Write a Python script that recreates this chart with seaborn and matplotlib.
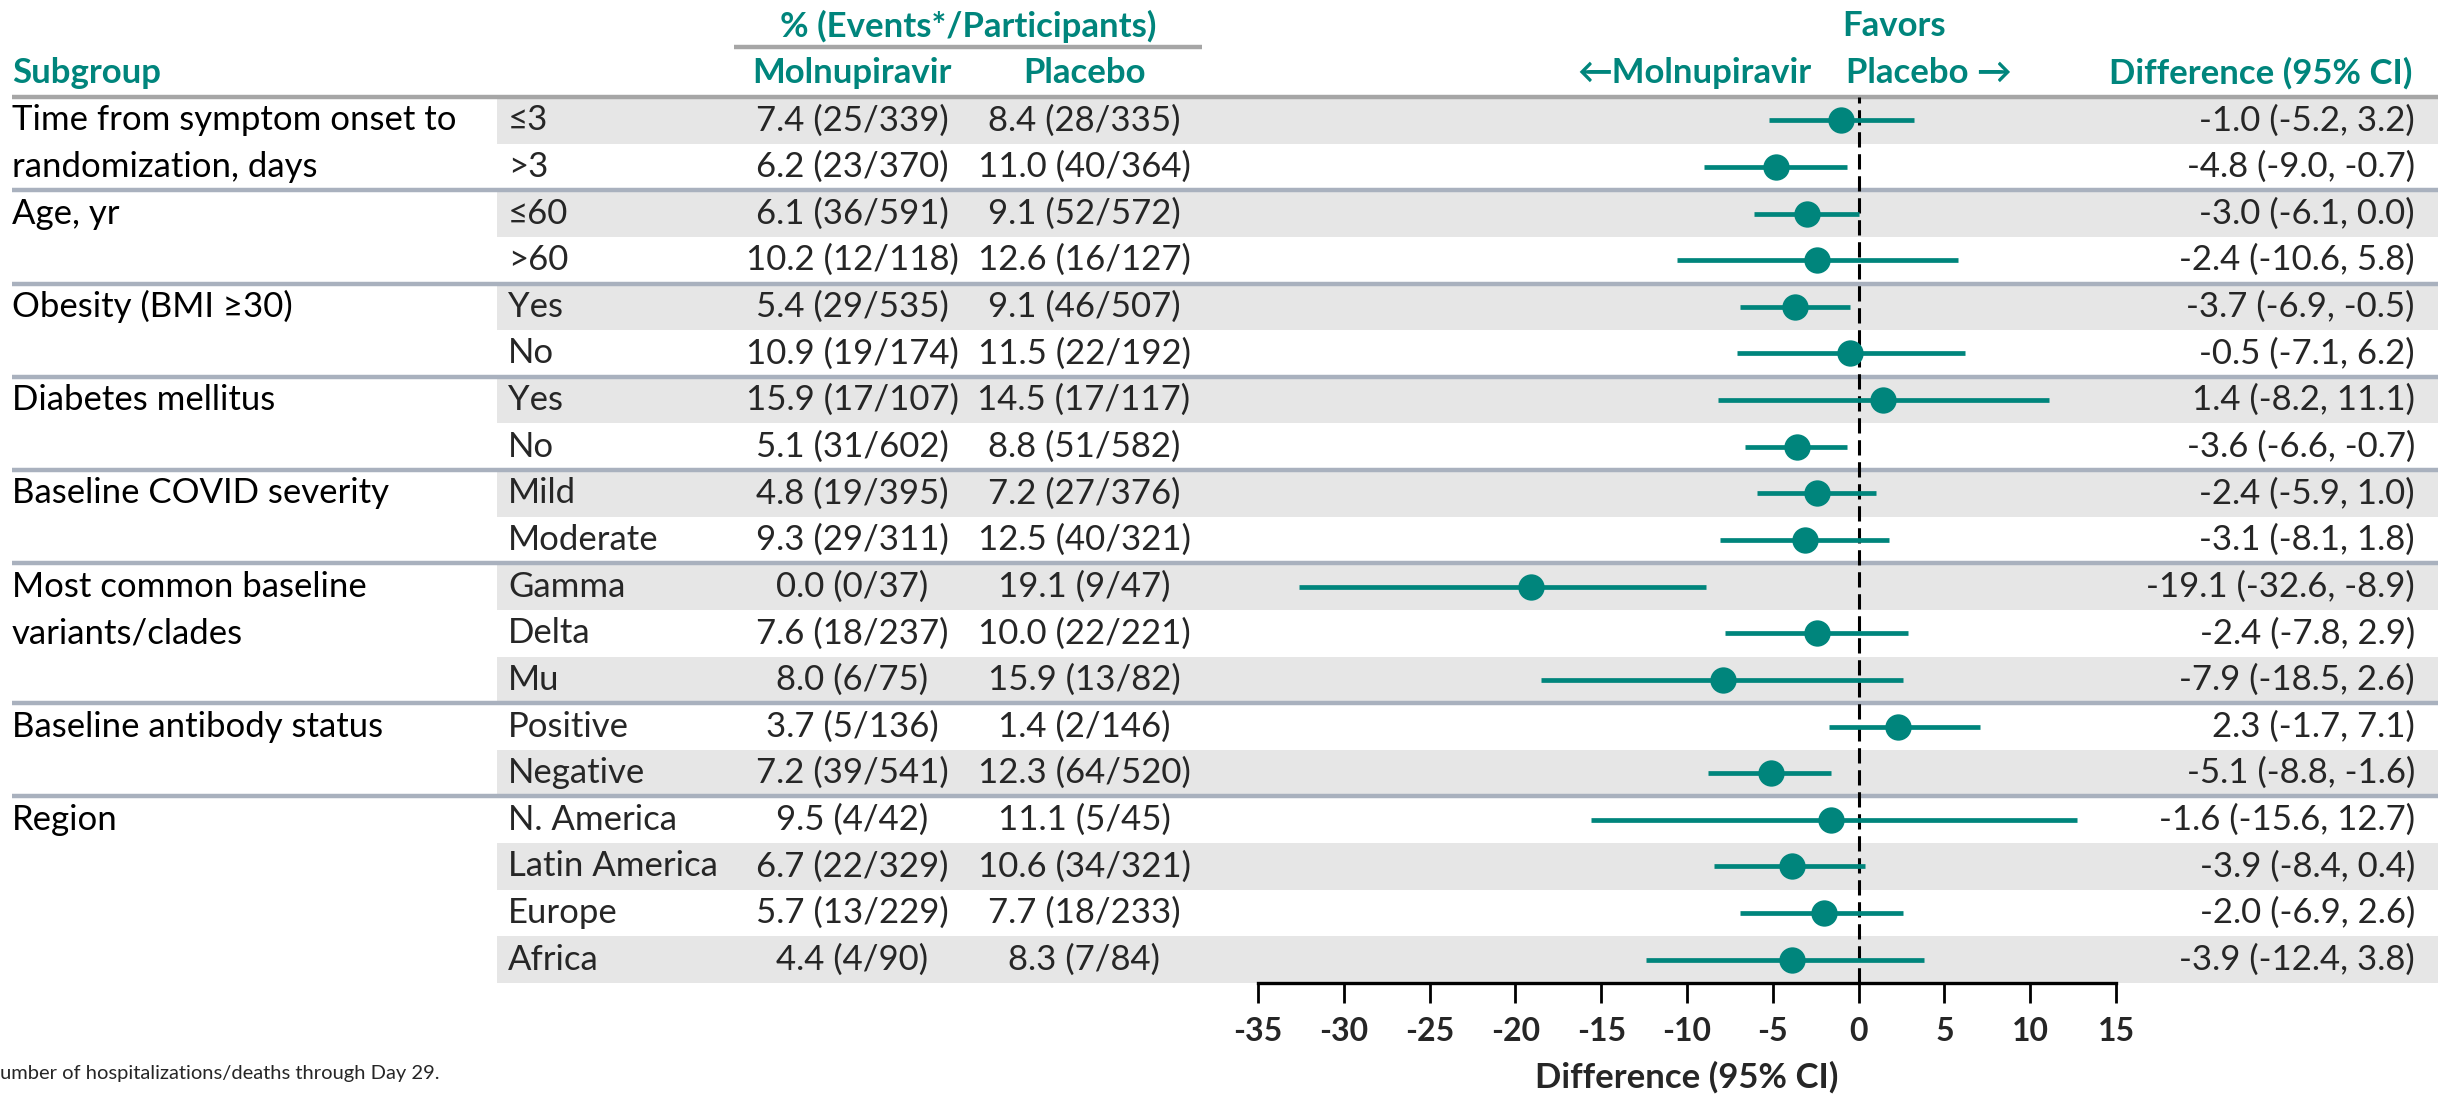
import numpy as np
import pandas as pd
import matplotlib
matplotlib.use("Agg")
import matplotlib.pyplot as plt
import seaborn as sns

# ---- data -----------------------------------------------------------------
group_labels = [
    "Time from symptom onset to\nrandomization, days",
    "Age, yr",
    "Obesity (BMI \u226530)",
    "Diabetes mellitus",
    "Baseline COVID severity",
    "Most common baseline\nvariants/clades",
    "Baseline antibody status",
    "Region",
]
group_sizes = [2, 2, 2, 2, 2, 3, 2, 4]
levels = ["\u22643", ">3", "\u226460", ">60", "Yes", "No", "Yes", "No",
          "Mild", "Moderate", "Gamma", "Delta", "Mu", "Positive", "Negative",
          "N. America", "Latin America", "Europe", "Africa"]

mol_pct = [7.4, 6.2, 6.1, 10.2, 5.4, 10.9, 15.9, 5.1, 4.8, 9.3, 0.0, 7.6, 8.0,
           3.7, 7.2, 9.5, 6.7, 5.7, 4.4]
mol_events = [25, 23, 36, 12, 29, 19, 17, 31, 19, 29, 0, 18, 6, 5, 39, 4, 22, 13, 4]
mol_n = [339, 370, 591, 118, 535, 174, 107, 602, 395, 311, 37, 237, 75, 136, 541,
         42, 329, 229, 90]

pbo_pct = [8.4, 11.0, 9.1, 12.6, 9.1, 11.5, 14.5, 8.8, 7.2, 12.5, 19.1, 10.0, 15.9,
           1.4, 12.3, 11.1, 10.6, 7.7, 8.3]
pbo_events = [28, 40, 52, 16, 46, 22, 17, 51, 27, 40, 9, 22, 13, 2, 64, 5, 34, 18, 7]
pbo_n = [335, 364, 572, 127, 507, 192, 117, 582, 376, 321, 47, 221, 82, 146, 520,
         45, 321, 233, 84]

diff = [-1.0, -4.8, -3.0, -2.4, -3.7, -0.5, 1.4, -3.6, -2.4, -3.1, -19.1, -2.4,
        -7.9, 2.3, -5.1, -1.6, -3.9, -2.0, -3.9]
ci_lo = [-5.2, -9.0, -6.1, -10.6, -6.9, -7.1, -8.2, -6.6, -5.9, -8.1, -32.6, -7.8,
         -18.5, -1.7, -8.8, -15.6, -8.4, -6.9, -12.4]
ci_hi = [3.2, -0.7, 0.0, 5.8, -0.5, 6.2, 11.1, -0.7, 1.0, 1.8, -8.9, 2.9, 2.6,
         7.1, -1.6, 12.7, 0.4, 2.6, 3.8]

x_ticks = [-35, -30, -25, -20, -15, -10, -5, 0, 5, 10, 15]

df = pd.DataFrame({"row": np.arange(len(levels)), "diff": diff,
                   "lo": ci_lo, "hi": ci_hi})

# ---- style ----------------------------------------------------------------
sns.set_theme(style="white")
plt.rcParams["font.family"] = ["Lato", "DejaVu Sans"]
plt.rcParams["axes.unicode_minus"] = False

TEAL = "#00857C"
BAND = "#E6E6E6"
HDR_LINE = "#A6A6A6"
GRP_LINE = "#A9B1BE"
FS = 25

W, H = 2438, 1097
ROW_TOP, ROW_BOTTOM = 97, 983
n_rows = len(levels)
ROW_H = (ROW_BOTTOM - ROW_TOP) / n_rows


def yrow(pix):
    """Convert a vertical pixel position to row units."""
    return (pix - ROW_TOP) / ROW_H - 0.5


fig = plt.figure(figsize=(W / 100, H / 100), dpi=100)

# background axes: x in pixels, y in row units
bg = fig.add_axes([0, 0, 1, 1])
bg.set_xlim(0, W)
bg.set_ylim(yrow(H), yrow(0))
bg.axis("off")

# shaded bands on alternating rows
for i in range(n_rows):
    if i % 2 == 0:
        bg.fill_between([497, W], i - 0.5, i + 0.5, color=BAND, lw=0, zorder=0)

# header rule and group separators
bg.plot([12, W], [-0.5, -0.5], color=HDR_LINE, lw=3.2, solid_capstyle="butt", zorder=1)
ends = np.cumsum(group_sizes)
for e in ends[:-1]:
    bg.plot([12, W], [e - 0.5, e - 0.5], color=GRP_LINE, lw=3.2,
            solid_capstyle="butt", zorder=1)

# table columns
starts = np.concatenate([[0], ends[:-1]])
for s, lab in zip(starts, group_labels):
    for k, line in enumerate(lab.split("\n")):
        bg.text(12, s + k, line, ha="left", va="center", fontsize=FS, color="black")

for i in range(n_rows):
    bg.text(508, i, levels[i], ha="left", va="center", fontsize=FS)
    bg.text(852, i, f"{mol_pct[i]:.1f} ({mol_events[i]}/{mol_n[i]})",
            ha="center", va="center", fontsize=FS)
    bg.text(1084, i, f"{pbo_pct[i]:.1f} ({pbo_events[i]}/{pbo_n[i]})",
            ha="center", va="center", fontsize=FS)
    bg.text(2415, i, f"{diff[i]:.1f} ({ci_lo[i]:.1f}, {ci_hi[i]:.1f})",
            ha="right", va="center", fontsize=FS)

# column headers
hdr = dict(fontsize=FS, fontweight="bold", color=TEAL, va="center")
bg.text(968, yrow(26), "% (Events*/Participants)", ha="center", **hdr)
bg.plot([734, 1202], [yrow(47), yrow(47)], color=HDR_LINE, lw=3.2, solid_capstyle="butt")
bg.text(12, yrow(73), "Subgroup", ha="left", **hdr)
bg.text(852, yrow(73), "Molnupiravir", ha="center", **hdr)
bg.text(1084, yrow(73), "Placebo", ha="center", **hdr)
bg.text(1894, yrow(26), "Favors", ha="center", **hdr)
bg.text(1811, yrow(73), "\u2190Molnupiravir", ha="right", **hdr)
bg.text(1846, yrow(73), "Placebo \u2192", ha="left", **hdr)
bg.text(2412, yrow(73), "Difference (95% CI)", ha="right", **hdr)

# footnote
bg.text(0, yrow(1073), "umber of hospitalizations/deaths through Day 29.",
        ha="left", va="center", fontsize=14.5)

# ---- forest panel -----------------------------------------------------------
x0, x1 = 1258, 2116
ax = fig.add_axes([x0 / W, (H - ROW_BOTTOM) / H, (x1 - x0) / W,
                   (ROW_BOTTOM - ROW_TOP) / H])
ax.patch.set_alpha(0)

ax.axvline(0, color="black", lw=2.2, dashes=(5, 2.2), zorder=1)
ax.hlines(df["row"], df["lo"], df["hi"], color=TEAL, lw=3.4, zorder=2)
sns.scatterplot(data=df, x="diff", y="row", ax=ax, s=360, color=TEAL,
                edgecolor=TEAL, linewidth=0, zorder=3, legend=False)

ax.set_xlim(-35, 15)
ax.set_ylim(n_rows - 0.5, -0.5)
ax.set_xticks(x_ticks)
ax.set_xticklabels([str(t) for t in x_ticks])
ax.set_yticks([])
for side in ("left", "right", "top"):
    ax.spines[side].set_visible(False)
ax.spines["bottom"].set_color("black")
ax.spines["bottom"].set_linewidth(2.4)
ax.tick_params(axis="x", direction="out", length=14.5, width=2.0, color="black",
               pad=10, labelsize=23, bottom=True)
for lbl in ax.get_xticklabels():
    lbl.set_fontweight("bold")
ax.set_xlabel("Difference (95% CI)", fontsize=FS, fontweight="bold", labelpad=11)
ax.set_ylabel("")

fig.savefig("out.png", dpi=100)
